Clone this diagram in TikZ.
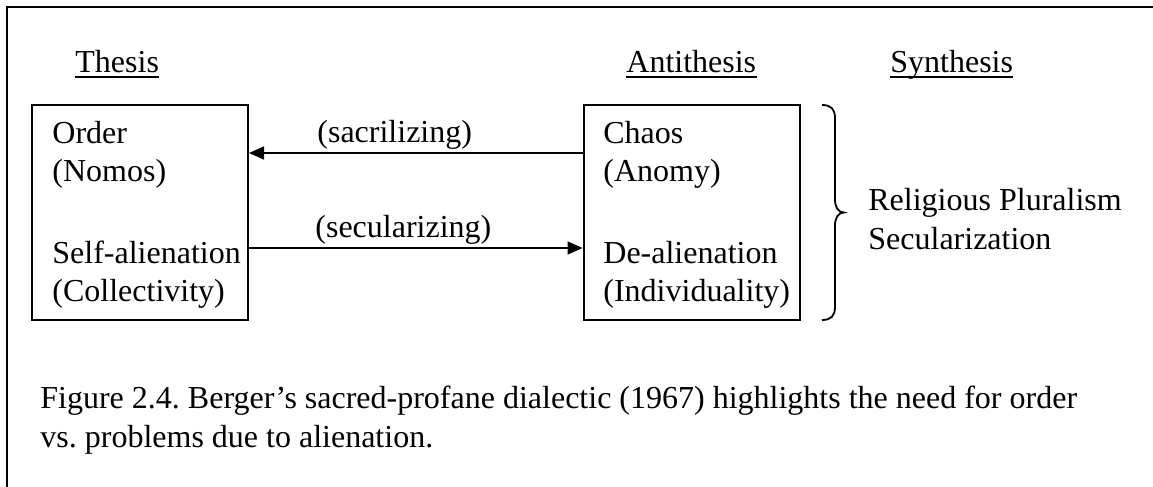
\documentclass[tikz,border=0pt]{standalone}
\usepackage{fontspec}
\setmainfont{Liberation Serif}
\usetikzlibrary{arrows.meta}
\frenchspacing
\begin{document}
\begin{tikzpicture}[x=0.5pt,y=-0.5pt,
  txt/.style={font=\fontsize{16pt}{19.5pt}\selectfont, inner sep=0pt, anchor=base west},
  box/.style={draw, line width=1pt, minimum width=108pt, minimum height=107.5pt, inner sep=0pt},
  conn/.style={line width=0.75pt, -{Triangle[length=7.5pt,width=6.5pt]}},
  frame/.style={line width=1pt},
  uline/.style={line width=1pt},
  bracestyle/.style={line width=0.9pt}]
\useasboundingbox (0,0) rectangle (1153,487);
\draw[frame] (7,487) -- (7,7) -- (1153,7);
% headings
\node[txt] (thesis) at (75,72) {Thesis};
\node[txt] (anti) at (626,72) {Antithesis};
\node[txt] (synth) at (890,72) {Synthesis};
\foreach \n in {thesis,anti,synth}
  \draw[uline] ([yshift=-2.5pt]\n.base west) -- ([yshift=-2.5pt]\n.base east);
% boxes
\node[box] (thbox) at (140,212.5) {};
\node[box] (anbox) at (691.5,212.5) {};
% box texts
\node[txt] (order) at (52,143) {Order};
\node[txt] (nomos) at (52,181) {(Nomos)};
\node[txt] (self) at (52,263) {Self-alienation};
\node[txt] (coll) at (52,301) {(Collectivity)};
\node[txt] (chaos) at (603,143) {Chaos};
\node[txt] (anomy) at (603,181) {(Anomy)};
\node[txt] (deal) at (603,263) {De-alienation};
\node[txt] (indiv) at (603,301) {(Individuality)};
% connectors
\draw[conn] ([yshift=29.75pt]anbox.west) -- ([yshift=29.75pt]thbox.east);
\draw[conn] ([yshift=-17.75pt]thbox.east) -- ([yshift=-17.75pt]anbox.west);
\node[txt] (sacr) at (317,142) {(sacrilizing)};
\node[txt] (secu) at (315,237) {(secularizing)};
% brace
\coordinate (btop) at (822,105);
\coordinate (bbot) at (822,320);
\draw[bracestyle] (btop) .. controls (831,105) and (835,109) .. (835,118)
  -- (835,199) .. controls (835,207) and (838,212.5) .. (844,212.5)
  .. controls (838,212.5) and (835,218) .. (835,226)
  -- (835,307) .. controls (835,316) and (831,320) .. (bbot);
\node[txt] (relig) at (868,210) {Religious Pluralism};
\node[txt] (secz) at (868,249) {Secularization};
% caption
\node[txt] (cap1) at (40,408) {Figure 2.4. Berger’s sacred-profane dialectic (1967) highlights the need for order};
\node[txt] (cap2) at (40,447) {vs. problems due to alienation.};
\end{tikzpicture}
\end{document}
